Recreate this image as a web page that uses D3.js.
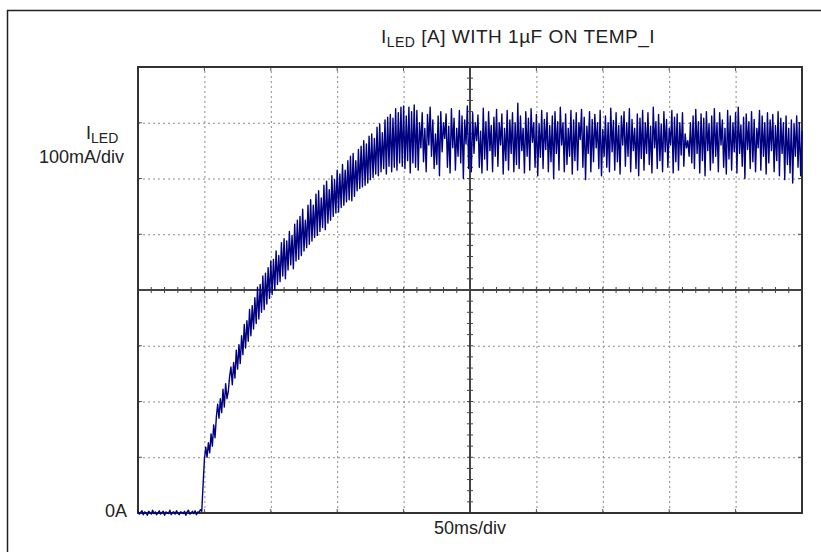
<!DOCTYPE html>
<html>
<head>
<meta charset="utf-8">
<script src="https://cdn.jsdelivr.net/npm/d3@7"></script>
<style>
  body { margin: 0; background: #fff; }
  svg { display: block; font-family: "Liberation Sans", Arial, sans-serif; }
  .grid line { stroke: #8a8a8a; stroke-width: 1; stroke-dasharray: 2,3; }
  .grid path { display: none; }
</style>
</head>
<body>
<div id="chart"></div>
<script>
// scope settings
var xDivs = [0, 50, 100, 150, 200, 250, 300, 350, 400, 450, 500]; // ms
var yDivs = [0, 100, 200, 300, 400, 500, 600, 700, 800];          // mA
var sampleStepMs = 1;

// ILED trace, mA, one sample per ms (0..500 ms)
var iled = [
  3,-2,1,4,-3,2,0,-4,3,1,-2,5,-1,2,-3,0,4,-2,1,3,-4,2,0,-1,5,-3,1,2,-2,4,0,-3,2,1,-1,3,-4,2,5,-2,0,3,-1,4,-3,2,1,6,3,
  50,96,118,100,126,108,142,120,158,135,172,
  195,170,205,180,222,190,232,205,218,245,
  262,230,270,242,292,258,302,268,318,284,
  338,296,345,308,365,318,372,330,386,340,
  405,348,410,360,425,365,430,375,440,385,
  452,392,455,400,470,410,462,415,485,425,
  492,420,488,436,505,445,498,438,518,452,
  525,455,532,462,545,470,525,476,552,482,
  562,488,552,494,572,498,578,505,565,512,
  588,508,595,520,580,525,605,532,598,538,
  615,540,608,548,625,552,615,558,632,562,
  640,560,645,568,632,578,652,582,658,585,
  668,588,662,592,676,598,680,602,672,608,
  692,605,698,612,682,618,705,608,710,622,
  715,612,708,620,725,615,718,628,728,622,
  730,618,712,632,728,610,720,628,732,620,
  722,615,700,655,718,630,690,612,715,660,
  728,640,705,618,680,625,712,605,720,648,
  700,672,716,620,694,610,725,655,708,615,
  690,640,722,628,712,600,705,662,730,618,
  698,612,718,645,700,668,714,620,685,610,
  726,635,702,615,720,650,695,612,710,640,
  724,622,700,660,716,608,690,632,722,615,
  705,645,718,612,700,625,735,618,712,650,
  690,610,720,640,708,615,725,665,700,620,
  715,605,698,638,722,618,706,652,718,612,
  695,630,712,600,720,645,702,615,728,660,
  700,612,716,625,690,640,722,608,705,632,
  718,615,700,670,724,620,710,598,694,645,
  720,612,706,630,715,655,700,618,722,605,
  688,640,712,620,700,612,726,648,704,615,
  718,630,695,608,712,660,720,622,700,640,
  725,612,706,650,690,618,716,605,708,636,
  722,615,700,645,718,625,694,610,728,655,
  702,618,715,632,698,612,720,648,706,620,
  690,660,722,610,710,630,716,615,700,642,
  718,622,680,655,668,640,700,628,712,618,
  724,645,702,610,716,632,708,605,720,650,
  698,615,712,628,725,640,700,612,718,660,
  705,620,690,608,722,635,712,615,700,648,
  718,610,728,645,696,622,710,600,716,652,
  702,618,720,630,706,612,690,655,722,615,
  712,640,700,608,718,628,705,650,715,612,
  695,632,720,605,708,645,700,598,712,625,
  690,610,705,592,698,640,712,620,700,605,685
];

var W = 821, H = 552;
var plot = { left: 138, top: 67, right: 802, bottom: 513 };

var svg = d3.select("#chart").append("svg").attr("width", W).attr("height", H);

// outer frame
svg.append("rect").attr("x", 7.5).attr("y", 10.5).attr("width", 830).attr("height", 560)
  .attr("fill", "none").attr("stroke", "#222").attr("stroke-width", 1.5);

var x = d3.scaleLinear().domain([0, 500]).range([plot.left, plot.right]);
var y = d3.scaleLinear().domain([0, 800]).range([plot.bottom, plot.top]);

// dotted grid
svg.append("g").attr("class", "grid")
  .attr("transform", "translate(0," + plot.bottom + ")")
  .call(d3.axisBottom(x).tickValues(xDivs.slice(1, -1)).tickSize(-(plot.bottom - plot.top)).tickFormat(""));
svg.append("g").attr("class", "grid")
  .attr("transform", "translate(" + plot.left + ",0)")
  .call(d3.axisLeft(y).tickValues(yDivs.slice(1, -1)).tickSize(-(plot.right - plot.left)).tickFormat(""));

// small tick marks on the border at each division
var edge = svg.append("g").attr("stroke", "#555").attr("stroke-width", 1);
xDivs.slice(1, -1).forEach(function (d) {
  edge.append("line").attr("x1", x(d)).attr("x2", x(d)).attr("y1", plot.top).attr("y2", plot.top + 4);
  edge.append("line").attr("x1", x(d)).attr("x2", x(d)).attr("y1", plot.bottom).attr("y2", plot.bottom - 4);
});
yDivs.slice(1, -1).forEach(function (d) {
  edge.append("line").attr("x1", plot.left).attr("x2", plot.left + 4).attr("y1", y(d)).attr("y2", y(d));
  edge.append("line").attr("x1", plot.right).attr("x2", plot.right - 4).attr("y1", y(d)).attr("y2", y(d));
});

// centre cross with minor ticks (5 per div)
var cx = x(250), cy = y(400);
var cross = svg.append("g").attr("stroke", "#444");
cross.append("line").attr("x1", plot.left).attr("x2", plot.right).attr("y1", cy).attr("y2", cy).attr("stroke-width", 2);
cross.append("line").attr("x1", cx).attr("x2", cx).attr("y1", plot.top).attr("y2", plot.bottom).attr("stroke-width", 2);
d3.range(0, 501, 10).forEach(function (t) {
  cross.append("line").attr("x1", x(t)).attr("x2", x(t)).attr("y1", cy - 3).attr("y2", cy + 3).attr("stroke-width", 1);
});
d3.range(0, 801, 20).forEach(function (v) {
  cross.append("line").attr("x1", cx - 3).attr("x2", cx + 3).attr("y1", y(v)).attr("y2", y(v)).attr("stroke-width", 1);
});

// plot border
svg.append("rect").attr("x", plot.left).attr("y", plot.top)
  .attr("width", plot.right - plot.left).attr("height", plot.bottom - plot.top)
  .attr("fill", "none").attr("stroke", "#333").attr("stroke-width", 2);

// trace
var line = d3.line()
  .x(function (d, i) { return x(i * sampleStepMs); })
  .y(function (d) { return y(d); });
svg.append("path").datum(iled)
  .attr("d", line)
  .attr("fill", "none")
  .attr("stroke", "#000080")
  .attr("stroke-width", 1.4)
  .attr("stroke-linejoin", "round");

// labels
var title = svg.append("text").attr("x", 518).attr("y", 43).attr("text-anchor", "middle")
  .attr("font-size", 19).attr("letter-spacing", 0.5).attr("fill", "#222");
title.append("tspan").text("I");
title.append("tspan").attr("font-size", 14).attr("dy", 4).text("LED");
title.append("tspan").attr("dy", -4).text(" [A] WITH 1\u00b5F ON TEMP_I");

var ylab = svg.append("text").attr("x", 86).attr("y", 139).attr("font-size", 18).attr("fill", "#222");
ylab.append("tspan").text("I");
ylab.append("tspan").attr("font-size", 14).attr("dy", 4).text("LED");
svg.append("text").attr("x", 124).attr("y", 163).attr("text-anchor", "end")
  .attr("font-size", 18).attr("fill", "#222").text("100mA/div");
svg.append("text").attr("x", 127).attr("y", 517).attr("text-anchor", "end")
  .attr("font-size", 18).attr("fill", "#222").text("0A");
svg.append("text").attr("x", x(250)).attr("y", 534).attr("text-anchor", "middle")
  .attr("font-size", 18).attr("fill", "#222").text("50ms/div");
</script>
</body>
</html>
